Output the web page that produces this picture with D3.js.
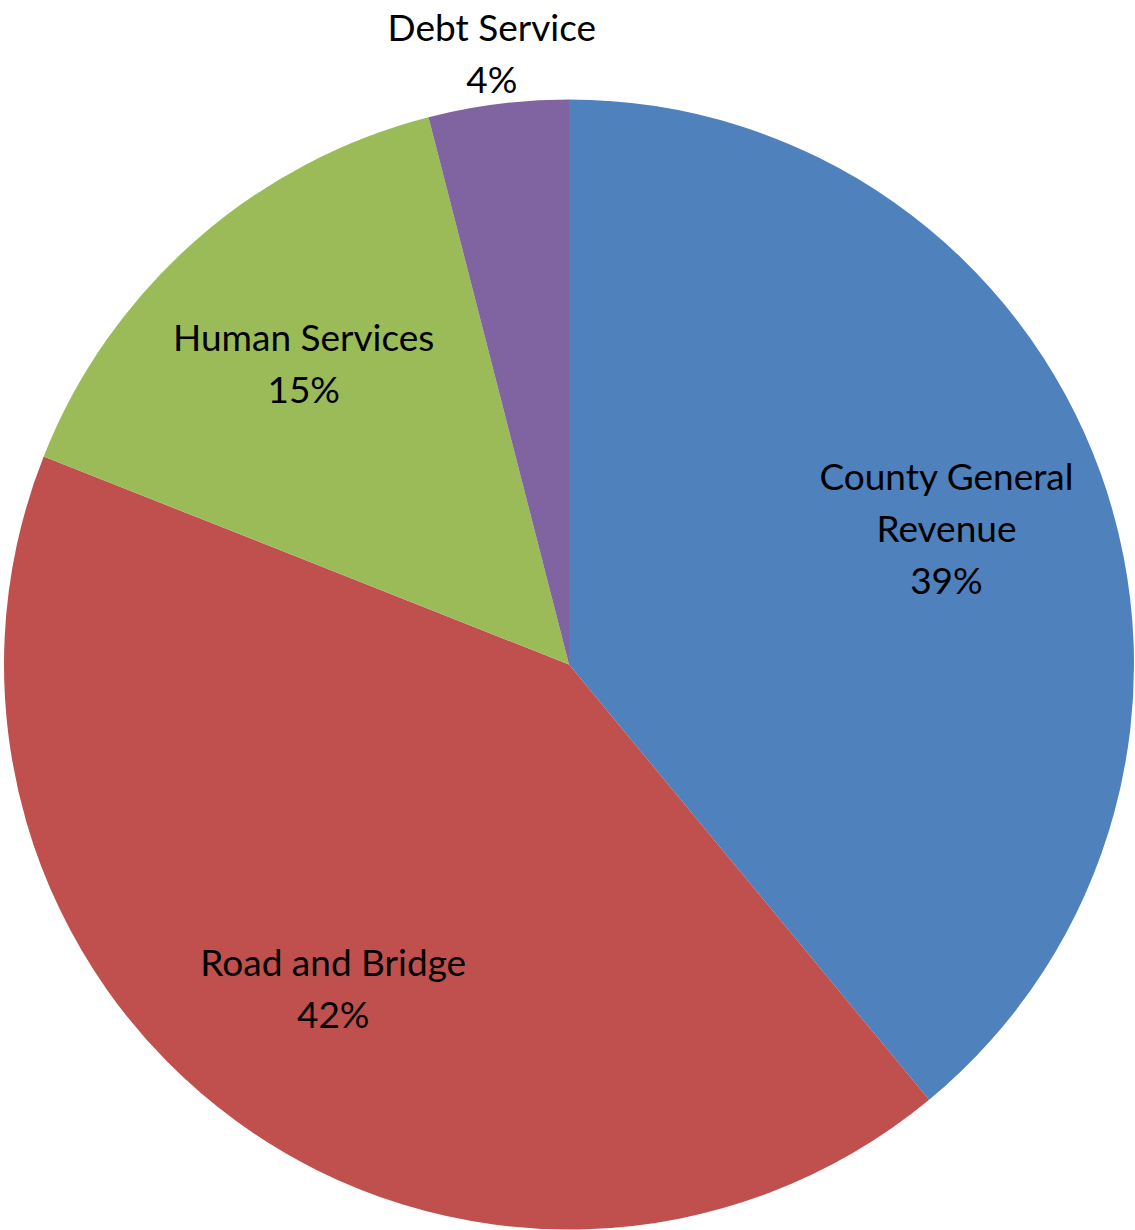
<!DOCTYPE html>
<html>
<head>
<meta charset="utf-8">
<script src="https://cdn.jsdelivr.net/npm/d3@7"></script>
<style>
  html, body { margin: 0; padding: 0; background: #fff; }
  svg { display: block; }
  text { font-family: Lato, "Open Sans", sans-serif; fill: #000; }
</style>
</head>
<body>
<svg id="chart" width="1135" height="1230"></svg>
<script>
// Budget shares by fund
const categories = ["County General Revenue", "Road and Bridge", "Human Services", "Debt Service"];
const shares = [39, 42, 15, 4];
const labelLines = [["County General", "Revenue"], ["Road and Bridge"], ["Human Services"], ["Debt Service"]];
const colors = ["#4F81BD", "#C0504D", "#9BBB59", "#8064A2"];
const outsideLabel = [false, false, false, true];

const width = 1135, height = 1230;
const cx = 569, cy = 664.5, R = 565;
const fontSize = 37, lineGap = 52;

const svg = d3.select("#chart");
const g = svg.append("g").attr("transform", `translate(${cx},${cy})`);

const data = categories.map((c, i) => ({ name: c, value: shares[i], i }));
const pie = d3.pie().value(d => d.value).sort(null);
const arcs = pie(data);

const arc = d3.arc().innerRadius(0).outerRadius(R);
const labelArcIn = d3.arc().innerRadius(R * 0.71).outerRadius(R * 0.71);
const labelArcOut = d3.arc().innerRadius(R + 51).outerRadius(R + 51);

g.selectAll("path.slice")
  .data(arcs)
  .join("path")
  .attr("class", "slice")
  .attr("d", arc)
  .attr("fill", d => colors[d.data.i]);

// Data labels: name line(s) followed by the percentage
const labels = g.selectAll("text.lbl")
  .data(arcs)
  .join("text")
  .attr("class", "lbl")
  .attr("text-anchor", "middle")
  .attr("font-size", fontSize)
  .attr("transform", d => {
    const [x, y] = (outsideLabel[d.data.i] ? labelArcOut : labelArcIn).centroid(d);
    const n = labelLines[d.data.i].length + 1;
    // vertically centre the block of lines on the anchor point
    const top = y - ((n - 1) * lineGap) / 2 + fontSize * 0.36;
    return `translate(${x},${top})`;
  });

labels.each(function (d) {
  const t = d3.select(this);
  const lines = labelLines[d.data.i].concat([d.data.value + "%"]);
  lines.forEach((s, k) => {
    t.append("tspan").attr("x", 0).attr("y", k * lineGap).text(s);
  });
});
</script>
</body>
</html>
